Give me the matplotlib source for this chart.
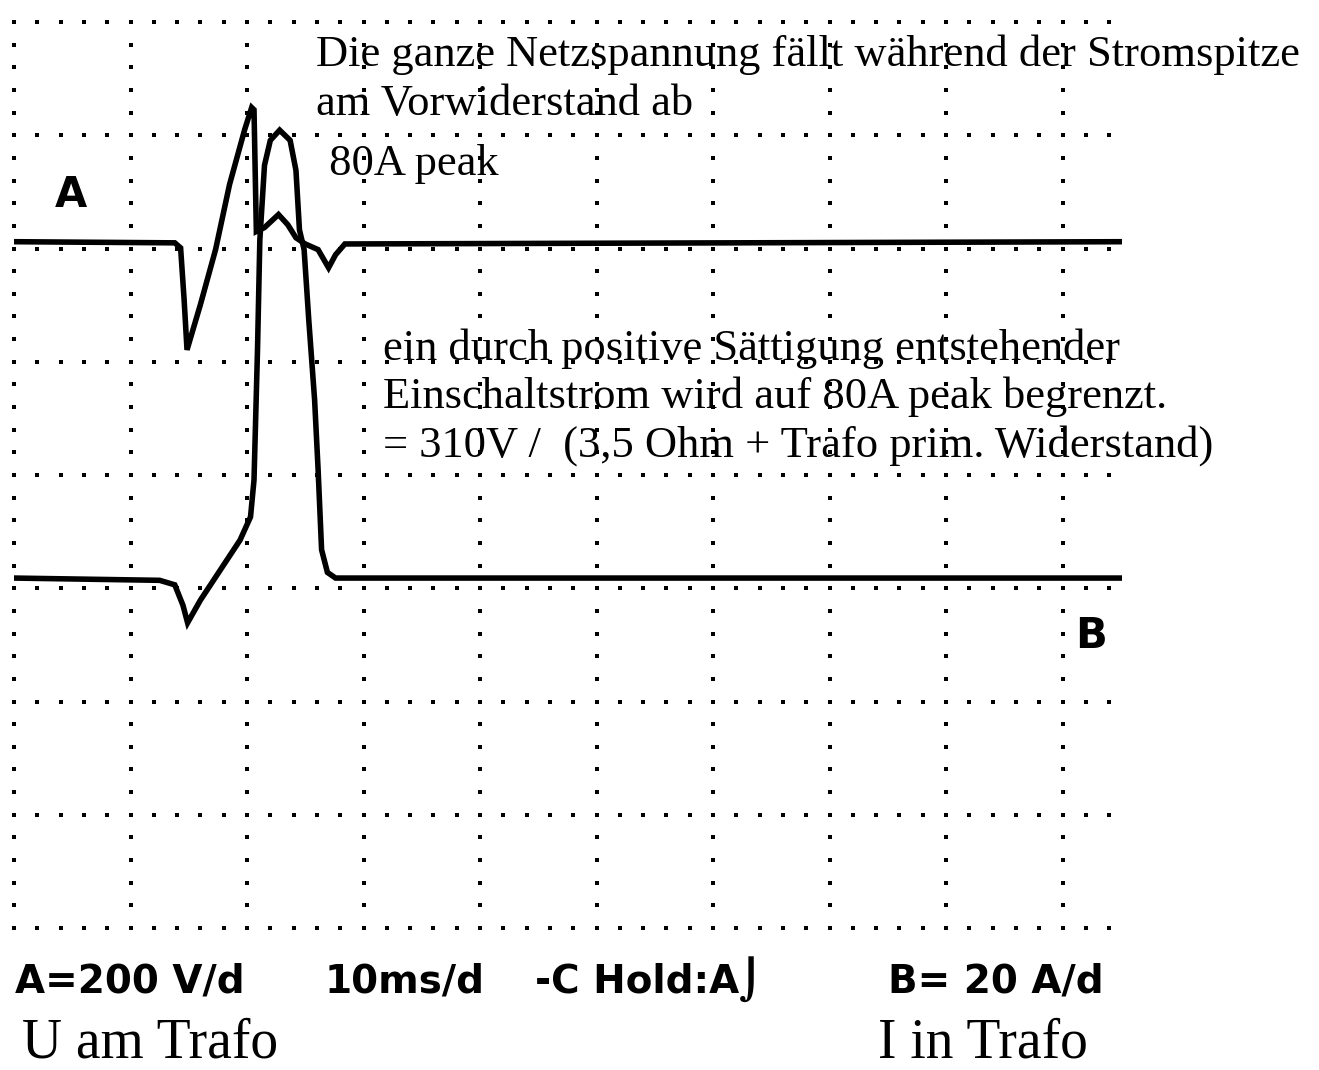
import numpy as np
import matplotlib.pyplot as plt

W, H = 1319, 1070

# Kanal A: Spannung am Trafo (ms, V), 200 V/div
t_a = [0, 13.8, 14.3, 14.6, 14.85, 16.0, 17.3, 18.5, 19.8, 20.4, 20.6, 20.8,
       21.5, 22.7, 23.5, 24.2, 25.0, 26.1, 27.0, 27.6, 28.4, 95.1]
u_a = [0, -2, -11, -102, -191, -111, -14, 101, 198, 237, 233, 18,
       25, 48, 30, 7, -4, -14, -46, -23, -4, 0]

# Kanal B: Strom in Trafo (ms, A), 20 A/div
t_b = [0, 12.5, 13.8, 14.5, 14.9, 16.0, 17.7, 19.4, 20.3, 20.6, 20.9, 21.1,
       21.5, 22.0, 22.8, 23.7, 24.2, 24.5, 24.9, 25.3, 25.8, 26.1, 26.4,
       26.9, 27.6, 95.1]
i_b = [0, -0.4, -1.2, -4.8, -7.9, -3.9, 1.4, 6.7, 10.8, 17.3, 40.3, 59.7,
       72.9, 77.3, 79.1, 77.3, 72.0, 61.5, 58.0, 45.6, 31.5, 19.2, 5.0,
       1.0, 0, 0]

volt_div, amp_div, ms_div = 200, 20, 10
pos_a, pos_b = 6.06, 3.09   # Nulllinien in Divisionen

fig = plt.figure(figsize=(W / 100, H / 100), dpi=100)
ax = fig.add_axes([14 / W, 1 - 928 / H, (1122 - 14) / W, (928 - 22) / H])
ax.set_xlim(0, 95.1)
ax.set_ylim(0, 8)
ax.axis('off')

# Punktraster (5 Punkte pro Division)
for k in range(10):
    yy = np.arange(0, 8.01, 0.2)
    ax.scatter(np.full(yy.shape, k * ms_div), yy, s=6, marker='s',
               color='black', linewidths=0, clip_on=False)
for k in range(9):
    xx = np.arange(0, 94.1, 2)
    ax.scatter(xx, np.full(xx.shape, k), s=6, marker='s',
               color='black', linewidths=0, clip_on=False)

ax.plot(t_a, np.array(u_a) / volt_div + pos_a, color='black', lw=4,
        solid_joinstyle='miter')
ax.plot(t_b, np.array(i_b) / amp_div + pos_b, color='black', lw=4,
        solid_joinstyle='miter')


def txt(x, y, s, **kw):
    return fig.text(x / W, 1 - y / H, s, va='baseline', ha='left', **kw)


serif = dict(family='Liberation Serif', color='black')
txt(316, 66, 'Die ganze Netzspannung fällt während der Stromspitze', fontsize=32, **serif)
txt(316, 115, 'am Vorwiderstand ab', fontsize=32, **serif)
txt(318, 175, ' 80A peak', fontsize=32, **serif)
txt(383, 360, 'ein durch positive Sättigung entstehender', fontsize=32, **serif)
txt(383, 408, 'Einschaltstrom wird auf 80A peak begrenzt.', fontsize=32, **serif)
txt(383, 457, '= 310V /  (3,5 Ohm + Trafo prim. Widerstand)', fontsize=32, **serif)
txt(22, 1058, 'U am Trafo', fontsize=40, **serif)
txt(878, 1058, 'I in Trafo', fontsize=40, **serif)

scope = dict(family='DejaVu Sans', fontweight='bold', color='black')
txt(55, 207, 'A', fontsize=30, **scope)
txt(1075, 648, 'B', fontsize=30, **scope)
txt(15, 993, 'A=200 V/d', fontsize=28, **scope)
txt(325, 993, '10ms/d', fontsize=28, **scope)
txt(535, 993, '-C Hold:A⌡', fontsize=28, **scope)
txt(888, 993, 'B= 20 A/d', fontsize=28, **scope)

fig.savefig('out.png', dpi=100, facecolor='white')
